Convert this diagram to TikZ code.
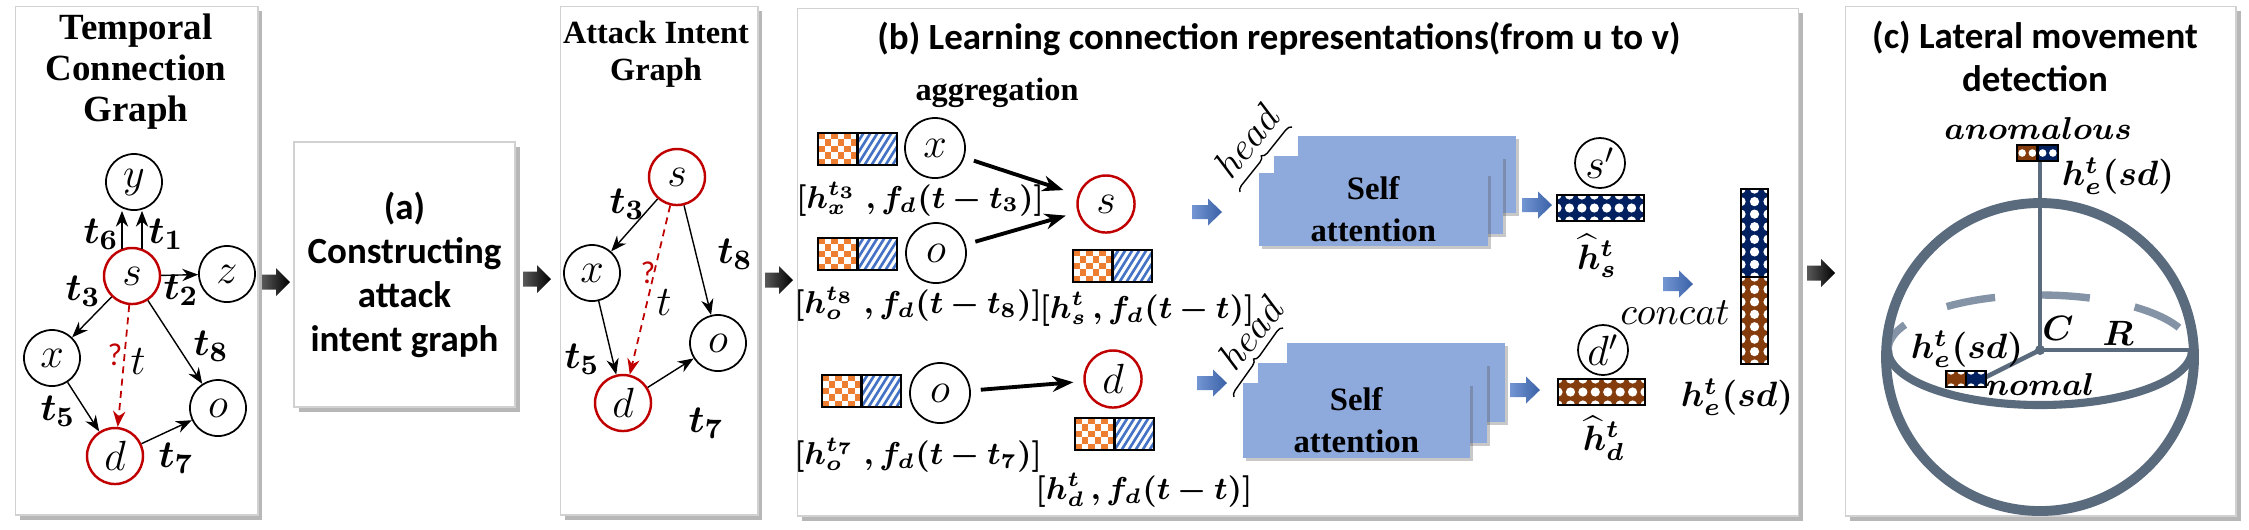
\documentclass[tikz,border=0pt]{standalone}
\usepackage{amsmath,bm}
\usepackage{fontspec}
\setmainfont{Liberation Serif}
\newfontfamily\calib{Carlito}
\usetikzlibrary{arrows.meta,shadows,decorations.pathreplacing,calc}
\definecolor{myred}{HTML}{C00000}
\definecolor{myorange}{HTML}{ED7D31}
\definecolor{myblue}{HTML}{4472C4}
\definecolor{saBlue}{HTML}{8EA9DB}
\definecolor{navyc}{HTML}{002060}
\definecolor{brownc}{HTML}{843C0C}
\definecolor{sphc}{HTML}{5B6B7E}
\definecolor{sphl}{HTML}{8593A6}
\definecolor{arrblue}{HTML}{4472C4}
\newcommand{\featbox}[2]{%
 \begin{scope}[shift={(#1,#2)}]
  \fill[white] (0,0) rectangle (79,32);
  \foreach \i in {0,...,5}{\foreach \j in {0,...,4}{%
     \pgfmathtruncatemacro\fbk{mod(\i+\j,2)}%
     \ifnum\fbk=0 \fill[myorange] ({\i*6.58},{\j*6.4}) rectangle ++(6.58,6.4);\fi
  }}
  \begin{scope}
   \clip (39.5,0) rectangle (79,32);
   \foreach \k in {-4,...,7} \draw[myblue, line width=0.75pt] ({39.5+\k*7},32) -- ++(20,-32);
  \end{scope}
  \draw[line width=0.7pt] (0,0) rectangle (79,32) (39.5,0) -- (39.5,32);
 \end{scope}}
\newcommand{\dotvec}[9]{%
 \begin{scope}
  \clip (#1,#2) rectangle ++(#3,#4);
  \fill[#7] (#1,#2) rectangle ++(#3,#4);
  \pgfmathtruncatemacro\dvnx{round(#3/#5)+1}%
  \pgfmathtruncatemacro\dvny{round(#4/#6)+1}%
  \pgfmathsetmacro\dvr{0.37*min(#5,#6)}%
  \foreach \i in {-1,...,\dvnx}{\foreach \j in {-1,...,\dvny}{%
    \fill[white] ({#1+(\i+#8)*#5},{#2+(\j+#9)*#6}) circle[radius=\dvr];
  }}
 \end{scope}
 \draw[line width=0.6pt] (#1,#2) rectangle ++(#3,#4);}
\begin{document}
\begin{tikzpicture}[x=0.01cm,y=-0.01cm,
 panel/.style={draw=black!18, line width=0.4pt, fill=white, inner sep=0pt,
   drop shadow={shadow xshift=1.3pt, shadow yshift=-1.3pt, opacity=0.4, fill=black!70}},
 ttl/.style={font=\fontsize{10.5}{11.7}\selectfont\bfseries, align=center, inner sep=0pt},
 gn/.style={circle, draw, line width=0.5pt, fill=white, minimum size=0.56cm, inner sep=0pt, font=\fontsize{13}{13}\selectfont},
 rn/.style={gn, draw=myred, line width=0.7pt},
 arr/.style={-{Stealth[length=4.5pt,width=3.5pt]}, line width=0.4pt},
 rarr/.style={-{Stealth[length=4.5pt,width=3.5pt]}, line width=0.5pt, draw=myred, dash pattern=on 2pt off 1.5pt},
 barr/.style={-{Stealth[length=6pt,width=4.5pt]}, line width=1.1pt},
 tl/.style={inner sep=0pt, font=\fontsize{11}{11}\selectfont},
 ml/.style={inner sep=0pt, font=\fontsize{9.8}{9.8}\selectfont},
 mb/.style={inner sep=0pt, font=\fontsize{8.8}{8.8}\selectfont},
 qm/.style={inner sep=0pt, text=myred, font=\calib\fontsize{9}{9}\selectfont},
 blkarr/.pic={\shade[left color=black!65, right color=black]
   (-14,-7.5) -- (0,-7.5) -- (0,-14) -- (14,0) -- (0,14) -- (0,7.5) -- (-14,7.5) -- cycle;},
 bluarr/.pic={\shade[left color=arrblue!75, right color=arrblue!85!black]
   (-15,-7) -- (1,-7) -- (1,-13.5) -- (15,0) -- (1,13.5) -- (1,7) -- (-15,7) -- cycle;},
 sa/.style={fill=saBlue, draw=none, inner sep=0pt, anchor=north west,
   drop shadow={shadow xshift=1pt, shadow yshift=-1pt, opacity=0.3, fill=black!70}},
 satxt/.style={font=\fontsize{9.3}{12}\selectfont\bfseries, align=center},
 brc/.style={decorate, decoration={brace, amplitude=0.6mm}, line width=0.4pt},
 sph/.style={draw=sphc}
]
\useasboundingbox (0,0) rectangle (2249,529);

% ---------------- panel 1
\node[panel, anchor=north west, minimum width=2.42cm, minimum height=5.08cm] (p1) at (15,6) {};
\node[ttl, anchor=north] (p1t) at (136,13) {Temporal\\Connection\\Graph};
\node[gn] (y) at (134,182) {$y$};
\node[rn] (s) at (132,276) {$s$};
\node[gn] (z) at (227,274) {$z$};
\node[gn] (x) at (52,358) {$x$};
\node[gn] (o) at (218,408) {$o$};
\node[rn] (d) at (115,456) {$d$};
\draw[arr] (s.110) -- (s.110 |- y.south);
\draw[arr] (s.70) -- (s.70 |- y.south);
\draw[arr] (s) -- (z);
\draw[arr] (s) -- (x);
\draw[arr] (s) -- (o);
\draw[arr] (x) -- (d);
\draw[arr] (d) -- (o);
\draw[rarr] (s) -- (d);
\node[tl] (l6) at (101,234) {$\boldsymbol{t_6}$};
\node[tl] (l1) at (166,234) {$\boldsymbol{t_1}$};
\node[tl] (l2) at (181,290) {$\boldsymbol{t_2}$};
\node[tl] (l3) at (83,291) {$\boldsymbol{t_3}$};
\node[tl] (l8) at (211,346) {$\boldsymbol{t_8}$};
\node[qm] (q1) at (115,355) {?};
\node[inner sep=0pt, font=\fontsize{12}{12}\selectfont] (tt1) at (138,361) {$t$};
\node[tl] (l5) at (58,411) {$\boldsymbol{t_5}$};
\node[tl] (l7) at (176,458) {$\boldsymbol{t_7}$};

% ---------------- arrows between panels
\pic (ar1) at (276,282) {blkarr};
\pic (ar2) at (537,279) {blkarr};
\pic (ar3) at (779,280) {blkarr};
\pic (ar4) at (1821,273) {blkarr};

% ---------------- box (a)
\node[panel, minimum width=2.21cm, minimum height=2.65cm, align=center,
  font=\fontsize{10.5}{12.5}\selectfont\calib\bfseries] (a) at (404.5,274.5)
  {(a)\\Constructing\\attack\\intent graph};

% ---------------- panel 2
\node[panel, anchor=north west, minimum width=1.97cm, minimum height=5.08cm] (p2) at (560,6) {};
\node[inner sep=0pt, align=center, anchor=north, font=\fontsize{9.2}{10.5}\selectfont\bfseries] (p2t) at (656,20) {Attack Intent\\Graph};
\node[rn] (s2) at (677,177) {$s$};
\node[gn] (x2) at (592,273) {$x$};
\node[gn] (o2) at (718,343) {$o$};
\node[rn] (d2) at (623,403) {$d$};
\draw[arr] (s2) -- (x2);
\draw[arr] (s2) -- (o2);
\draw[arr] (x2) -- (d2);
\draw[arr] (d2) -- (o2);
\draw[rarr] (s2) -- (d2);
\node[tl] (m3) at (627,204) {$\boldsymbol{t_3}$};
\node[tl] (m8) at (735,254) {$\boldsymbol{t_8}$};
\node[qm] (q2) at (648,273) {?};
\node[inner sep=0pt, font=\fontsize{12}{12}\selectfont] (tt2) at (664,303) {$t$};
\node[tl] (m5) at (582,359) {$\boldsymbol{t_5}$};
\node[tl] (m7) at (706,423) {$\boldsymbol{t_7}$};

% ---------------- panel b
\node[panel, anchor=north west, minimum width=10cm, minimum height=5.07cm] (pb) at (797,8) {};
\node[inner sep=0pt, anchor=base, font=\fontsize{10.5}{12}\selectfont\calib\bfseries] (pbt) at (1279,49) {(b) Learning connection representations(from u to v)};
\node[inner sep=0pt, font=\fontsize{9.2}{10}\selectfont\bfseries] (agg) at (997,93) {aggregation};
\featbox{818}{133}
\featbox{818}{238}
\featbox{1073}{250}
\featbox{822}{375}
\featbox{1075}{418}
\node[gn, minimum size=0.6cm] (bx) at (935,148) {$x$};
\node[gn, minimum size=0.6cm] (bo1) at (936,253) {$o$};
\node[rn, minimum size=0.57cm] (bs) at (1106,204) {$s$};
\node[gn, minimum size=0.6cm] (bo2) at (940,393) {$o$};
\node[rn, minimum size=0.57cm] (bd) at (1113,379) {$d$};
\draw[barr, shorten <=0.1cm, shorten >=0.15cm] (bx) -- (bs);
\draw[barr, shorten <=0.1cm, shorten >=0.12cm] (bo1) -- (bs);
\draw[barr, shorten <=0.1cm, shorten >=0.1cm] (bo2) -- (bd);
\node[mb] (L1) at (920,199) {$\boldsymbol{[h_x^{t_3}\;,f_d(t-t_3)]}$};
\node[mb] (L2) at (918,304) {$\boldsymbol{[h_o^{t_8}\;,f_d(t-t_8)]}$};
\node[mb] (Ls) at (1147,309) {$\boldsymbol{[h_s^{t}\,,f_d(t-t)]}$};
\node[mb] (L3) at (918,455) {$\boldsymbol{[h_o^{t_7}\;,f_d(t-t_7)]}$};
\node[mb] (Ld) at (1144,490) {$\boldsymbol{[h_d^{t}\,,f_d(t-t)]}$};
\pic (ba1) at (1207,212) {bluarr};
\pic (ba2) at (1212,383) {bluarr};
% self-attention stacks
\node[sa, minimum width=2.18cm, minimum height=0.77cm] (sa1c) at (1297,135) {};
\node[sa, minimum width=2.29cm, minimum height=0.78cm] (sa1b) at (1273,155) {};
\node[sa, minimum width=2.29cm, minimum height=0.73cm] (sa1a) at (1258,172) {};
\node[satxt] (sa1t) at (sa1a.center) {Self\\attention};
\node[sa, minimum width=2.18cm, minimum height=0.79cm] (sa2c) at (1286,342) {};
\node[sa, minimum width=2.29cm, minimum height=0.80cm] (sa2b) at (1257,362) {};
\node[sa, minimum width=2.27cm, minimum height=0.75cm] (sa2a) at (1242,382) {};
\node[satxt] (sa2t) at (sa2a.center) {Self\\attention};
% head braces
\coordinate (hb1a) at (1240,192);
\coordinate (hb1b) at (1292,127);
\draw[brc] (hb1a) -- (hb1b);
\node[rotate=51, inner sep=0pt, font=\fontsize{11}{11}\selectfont] (hd1) at (1246,141) {$head$};
\coordinate (hb2a) at (1234,397);
\coordinate (hb2b) at (1283,328);
\draw[brc] (hb2a) -- (hb2b);
\node[rotate=51, inner sep=0pt, font=\fontsize{11}{11}\selectfont] (hd2) at (1250,333) {$head$};
\pic (ba3) at (1537,205) {bluarr};
\pic (ba4) at (1525,390) {bluarr};
% outputs
\node[gn, minimum size=0.5cm, font=\fontsize{12}{12}\selectfont] (sp) at (1600,163) {$s'$};
\dotvec{1557}{195}{87}{26}{12.43}{13}{navyc}{0}{0}
\node[ml] (hs) at (1597,256) {$\boldsymbol{\widehat{h}_s^t}$};
\node[gn, minimum size=0.5cm, font=\fontsize{12}{12}\selectfont] (dp) at (1603,350) {$d'$};
\dotvec{1558}{379}{87}{26}{12.43}{13}{brownc}{0}{0}
\node[ml] (hd) at (1604,438) {$\boldsymbol{\widehat{h}_d^t}$};
\pic (ba5) at (1678,284) {bluarr};
\node[inner sep=0pt, font=\fontsize{11}{11}\selectfont] (cct) at (1675,313) {$concat$};
\dotvec{1741}{189}{27}{88}{13.5}{12.57}{navyc}{0}{0}
\dotvec{1741}{277}{27}{87}{13.5}{12.43}{brownc}{0}{0}
\node[ml] (he1) at (1737,397) {$\boldsymbol{h_e^t(sd)}$};

% ---------------- panel c
\node[panel, anchor=north west, minimum width=3.9cm, minimum height=5.09cm] (pc) at (1845,6) {};
\node[inner sep=0pt, align=center, anchor=north, font=\fontsize{10.5}{12.2}\selectfont\calib\bfseries] (pct) at (2035,20) {(c) Lateral movement\\detection};
\coordinate (cc) at (2040,350);
\coordinate (ctop) at (2040,161);
\coordinate (cright) at (2192,350);
\coordinate (cnorm) at (1986,377);
\draw[sph, draw=sphl, line width=2.1pt, dash pattern=on 14pt off 13pt, dash phase=5pt]
  (1888,350) arc[start angle=180, end angle=360, x radius=152, y radius=55];
\draw[sph, line width=2.3pt] (1888,350) arc[start angle=180, end angle=0, x radius=152, y radius=55];
\draw[sph, line width=2.8pt] (2040,357) circle[radius=154];
\draw[sph, line width=1.3pt] (ctop) -- (cc) -- (cright);
\draw[sph, line width=1.3pt] (cc) -- (cnorm);
\fill[sphc] (cc) circle[radius=5];
\node[inner sep=0pt, font=\fontsize{8.8}{8.8}\selectfont] (anom) at (2038,128) {$\boldsymbol{anomalous}$};
\dotvec{2017}{145}{20.5}{16}{10.25}{16}{brownc}{0.5}{0.5}
\dotvec{2037.5}{145}{20.5}{16}{10.25}{16}{navyc}{0.5}{0.5}
\node[ml] (he2) at (2118,176) {$\boldsymbol{h_e^t(sd)}$};
\node[ml] (cC) at (2058,328) {$\boldsymbol{C}$};
\node[ml] (cR) at (2118,333) {$\boldsymbol{R}$};
\node[ml] (he3) at (1967,349) {$\boldsymbol{h_e^t(sd)}$};
\dotvec{1946}{371}{20}{16}{10}{16}{brownc}{0.5}{0}
\dotvec{1966}{371}{20}{16}{10}{16}{navyc}{0.5}{0}
\node[inner sep=0pt, font=\fontsize{9.3}{9.3}\selectfont] (nom) at (2040,384) {$\boldsymbol{nomal}$};
\end{tikzpicture}
\end{document}
